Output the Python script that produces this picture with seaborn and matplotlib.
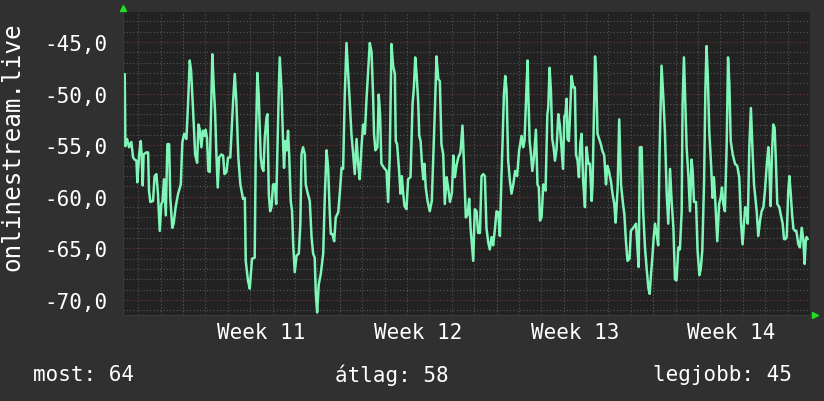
import pandas as pd
import matplotlib.pyplot as plt
import matplotlib.ticker as mticker
import seaborn as sns

# time axis: days since the start of Week 11
days = [-2.605, -2.575, -2.50, -2.41, -2.31, -2.23, -2.16, -2.08, -2.04, -1.96, -1.89, -1.85, -1.80, -1.76,
        -1.64, -1.56, -1.52, -1.46, -1.34, -1.27, -1.19, -1.12, -1.04, -0.97, -0.92, -0.85, -0.77, -0.70,
        -0.62, -0.57, -0.48, -0.42, -0.33, -0.22, -0.10, -0.03, 0.05, 0.15, 0.22, 0.30, 0.36, 0.42, 0.48,
        0.54, 0.63, 0.69, 0.75, 0.82, 0.89, 0.97, 1.01, 1.07, 1.13, 1.19, 1.25, 1.31, 1.37, 1.43, 1.49,
        1.55, 1.61, 1.71, 1.79, 1.85, 1.94, 2.01, 2.11, 2.23, 2.31, 2.38, 2.47, 2.56, 2.68, 2.76, 2.80,
        2.90, 2.98, 3.08, 3.20,
        3.25, 3.32, 3.38, 3.47, 3.53, 3.59, 3.65, 3.73, 3.77, 3.83, 3.89, 3.95, 4.02, 4.10, 4.16, 4.22,
        4.28, 4.32, 4.40, 4.47, 4.51, 4.57, 4.63, 4.69, 4.74, 4.81, 4.87, 4.92, 4.99, 5.07, 5.17, 5.24,
        5.29, 5.36, 5.44, 5.48, 5.56, 5.66, 5.74, 5.81, 5.88, 5.93, 5.99, 6.06, 6.15, 6.26, 6.33, 6.41,
        6.48, 6.55, 6.60, 6.67, 6.75, 6.82, 6.93, 7.00, 7.08, 7.15, 7.22, 7.30, 7.37, 7.45, 7.52, 7.60,
        7.67, 7.75, 7.82, 7.89, 7.97, 8.04, 8.12, 8.19, 8.27, 8.34, 8.42, 8.49, 8.53, 8.59, 8.68, 8.74,
        8.80, 8.86, 8.98, 9.09, 9.16, 9.23, 9.31, 9.38,
        9.46, 9.50, 9.56, 9.65, 9.71, 9.77, 9.83, 9.89, 9.98, 10.05, 10.16, 10.25, 10.31, 10.37, 10.43,
        10.50, 10.55, 10.61, 10.67, 10.73, 10.78, 10.84, 10.92, 11.02, 11.11, 11.17, 11.25, 11.32, 11.40,
        11.47, 11.54, 11.62, 11.69, 11.77, 11.84, 11.92, 12.01, 12.07, 12.14, 12.21, 12.29, 12.39, 12.48,
        12.54, 12.63, 12.71, 12.78, 12.84, 12.96, 13.03, 13.11, 13.18, 13.26, 13.33, 13.41, 13.48, 13.55,
        13.63, 13.70, 13.78, 13.85, 13.93, 14.00, 14.08, 14.15, 14.22, 14.27, 14.33, 14.39, 14.45, 14.52,
        14.60, 14.67, 14.75, 14.83, 14.92, 15.01, 15.12, 15.19, 15.25, 15.34, 15.39,
        15.42, 15.48, 15.54, 15.60, 15.67, 15.76, 15.83, 15.89, 15.94, 16.01, 16.09, 16.19, 16.27, 16.31,
        16.37, 16.43, 16.49, 16.55, 16.61, 16.68, 16.76, 16.83, 16.91, 16.97, 17.03, 17.08, 17.13, 17.17,
        17.23, 17.29, 17.35, 17.43, 17.50, 17.55, 17.62, 17.68, 17.74, 17.80, 17.87, 17.95, 18.02, 18.10,
        18.17, 18.25, 18.29, 18.34, 18.40, 18.45, 18.51, 18.57, 18.66, 18.72, 18.81, 18.89, 18.95, 19.02,
        19.11, 19.18, 19.26, 19.32, 19.41, 19.48, 19.56, 19.65, 19.71, 19.78, 19.85, 19.94, 20.00, 20.11,
        20.23, 20.30, 20.35, 20.40, 20.48, 20.55, 20.63, 20.70, 20.78, 20.84, 20.90, 20.96, 21.02, 21.08,
        21.15, 21.22, 21.28, 21.37,
        21.45, 21.52, 21.60, 21.67, 21.75, 21.82, 21.90, 21.97, 22.04, 22.12, 22.19, 22.27, 22.31, 22.37,
        22.43, 22.49, 22.57, 22.64, 22.71, 22.76, 22.82, 22.91, 22.98, 23.06, 23.12, 23.19, 23.27, 23.33,
        23.38, 23.44, 23.50, 23.58, 23.65, 23.71, 23.77, 23.86, 23.94, 24.01, 24.07, 24.13, 24.20, 24.28,
        24.34, 24.40, 24.46, 24.55, 24.65, 24.75, 24.84, 24.92, 24.99, 25.05, 25.11, 25.17, 25.22, 25.29,
        25.36, 25.44, 25.50, 25.62, 25.69, 25.77, 25.84, 25.92, 25.99, 26.06, 26.14, 26.18, 26.24, 26.30,
        26.36, 26.42, 26.48, 26.54, 26.63, 26.69, 26.78, 26.84, 26.90, 26.96, 27.03, 27.08, 27.14, 27.20,
        27.26, 27.33, 27.39, 27.48, 27.55, 27.63, 27.70, 27.76, 27.81, 27.85, 27.90]

signal = [-48.1, -55.1, -54.4, -55.2, -54.7, -56.2, -56.4, -56.5, -58.6, -55.9, -54.6, -55.9, -58.9, -55.9,
          -55.7, -55.7, -59.4, -60.5, -60.4, -58.0, -57.8, -59.7, -63.3, -60.7, -60.5, -58.3, -61.8, -54.9,
          -54.9, -60.1, -63.0, -62.6, -61.0, -59.7, -58.8, -54.7, -53.9, -54.4, -51.2, -46.8, -47.8, -50.4, -53.0,
          -55.9, -56.7, -53.0, -53.5, -55.2, -53.6, -54.1, -53.5, -54.3, -57.5, -57.6, -51.7, -46.2, -49.3, -51.7, -55.9,
          -59.1, -56.2, -55.9, -56.0, -57.8, -57.6, -56.2, -56.2, -51.0, -48.1, -50.7, -56.2, -58.8, -60.2, -60.1, -66.2,
          -68.1, -68.9, -66.0, -65.9,
          -54.9, -48.0, -50.2, -56.2, -57.2, -57.5, -54.3, -52.3, -52.0, -59.7, -61.4, -61.0, -58.8, -58.8, -60.7, -55.2,
          -49.4, -46.5, -49.7, -54.9, -57.2, -54.6, -55.5, -53.6, -55.9, -60.4, -61.4, -64.6, -67.3, -65.7, -65.5, -62.6,
          -55.9, -55.2, -55.9, -58.8, -59.6, -60.4, -63.9, -65.5, -65.9, -69.4, -71.2, -68.5, -67.5, -65.5, -60.1, -55.5,
          -57.2, -61.4, -63.6, -63.6, -64.3, -62.0, -61.5, -59.7, -57.2, -57.3, -50.4, -45.1, -47.8, -51.0, -53.9, -55.9,
          -57.8, -54.4, -56.8, -58.3, -55.2, -53.0, -53.9, -50.7, -47.8, -45.1, -46.0, -50.4, -53.9, -55.5, -55.2, -50.1,
          -52.0, -56.8, -57.2, -57.5, -60.5, -56.2, -45.2, -47.3,
          -48.1, -54.6, -54.9, -57.5, -59.7, -58.0, -59.6, -60.9, -61.2, -58.3, -58.1, -51.0, -49.4, -46.5, -48.1,
          -50.7, -54.1, -54.6, -56.8, -58.3, -56.8, -59.1, -60.4, -61.4, -60.4, -56.5, -51.4, -46.4, -48.6,
          -48.8, -54.9, -55.9, -60.7, -58.1, -59.1, -60.5, -59.6, -56.0, -58.1, -57.0, -56.2, -55.7, -53.1,
          -56.5, -62.0, -61.7, -60.2, -63.0, -66.2, -61.2, -61.4, -63.5, -63.5, -58.0, -57.8, -58.0, -63.0,
          -64.4, -65.1, -63.9, -64.7, -63.1, -61.4, -61.5, -63.8, -58.1, -54.7, -50.1, -48.3, -49.7, -56.5,
          -58.5, -59.7, -58.8, -57.5, -58.0, -55.5, -54.1, -55.2, -54.6, -49.4, -46.8,
          -50.1, -54.6, -55.9, -57.5, -56.2, -53.5, -58.8, -59.1, -62.3, -62.0, -58.8, -59.4, -52.0, -51.4,
          -47.5, -49.7, -54.4, -55.2, -56.5, -55.4, -52.0, -53.1, -55.5, -57.3, -52.2, -52.0, -50.5, -54.4,
          -54.6, -51.7, -48.3, -49.4, -49.4, -55.9, -56.5, -58.1, -54.9, -53.9, -58.5, -61.0, -55.2, -56.8,
          -56.8, -60.4, -58.8, -53.0, -46.4, -48.1, -53.9, -54.3, -54.9, -55.5, -56.0, -58.8, -57.0, -57.5,
          -58.5, -59.7, -60.7, -62.5, -59.1, -52.5, -58.8, -60.7, -61.7, -64.3, -66.2, -66.0, -63.3, -63.0,
          -62.6, -65.2, -66.8, -55.2, -55.2, -61.4, -64.9, -66.8, -68.8, -69.4, -67.5, -65.9, -63.9, -62.6,
          -63.6, -64.7, -55.9, -47.3,
          -50.4, -53.6, -59.7, -62.6, -57.3, -60.4, -63.0, -68.0, -68.1, -64.9, -65.1, -61.4, -51.0, -46.5,
          -50.7, -55.2, -58.0, -61.4, -56.4, -57.5, -60.5, -60.5, -65.2, -67.6, -67.0, -65.2, -58.5, -49.4,
          -45.4, -48.5, -53.6, -56.8, -60.1, -58.1, -60.4, -64.3, -60.7, -60.1, -59.1, -60.7, -61.4, -54.9,
          -46.5, -49.1, -54.6, -55.9, -56.8, -57.0, -58.1, -62.6, -64.6, -62.6, -61.0, -61.2, -62.6, -55.2,
          -51.4, -55.9, -58.8, -61.4, -63.8, -62.3, -61.4, -61.0, -59.4, -57.2, -55.2, -56.8, -60.9, -55.9,
          -53.0, -53.3, -56.8, -60.7, -61.0, -61.7, -62.6, -64.1, -64.1, -63.9, -59.4, -58.0, -59.7, -61.7,
          -63.1, -63.3, -63.3, -64.6, -64.9, -63.0, -64.1, -66.5, -64.3, -63.9, -64.1]

week_centers = [3.5, 10.5, 17.5, 24.5]
week_labels = ['Week 11', 'Week 12', 'Week 13', 'Week 14']
week_starts = [0, 7, 14, 21]
y_ticks = [-70, -65, -60, -55, -50, -45]
stats = {'most': 64, 'átlag': 58, 'legjobb': 45}

df = pd.DataFrame({'day': days, 'value': signal})

sns.set_style('dark')
plt.rcParams['font.family'] = ['DejaVu Sans Mono']

fig = plt.figure(figsize=(8.24, 4.02), dpi=100, facecolor='#303030')
ax = fig.add_axes([0.1493, 0.2139, 0.8337, 0.7538])
ax.set_facecolor('#222222')

sns.lineplot(data=df, x='day', y='value', ax=ax, color='#7ff5b8', linewidth=1.8,
             estimator=None, sort=False)

ax.set_xlim(-2.68, 28.0)
ax.set_ylim(-71.45, -42.1)

# minor grid: every day / every unit, major: weeks / 5 units in red
ax.xaxis.set_minor_locator(mticker.MultipleLocator(1))
ax.yaxis.set_minor_locator(mticker.MultipleLocator(1))
ax.set_yticks(y_ticks)
ax.yaxis.set_major_formatter(mticker.FuncFormatter(lambda v, p: f'{v:.1f}'.replace('.', ',')))
ax.set_xticks(week_centers)
ax.set_xticklabels(week_labels)

ax.grid(False)
ax.grid(which='minor', axis='both', color='#555555', linestyle=(0, (1, 2)), linewidth=0.8)
ax.grid(which='major', axis='y', color='#7a3434', linestyle=(0, (1, 2)), linewidth=0.8)
for d in week_starts:
    ax.axvline(d, color='#7a3434', linestyle=(0, (1, 2)), linewidth=0.8, zorder=0.5)

ax.tick_params(axis='both', which='both', colors='#ffffff', labelsize=15, length=0)
ax.tick_params(axis='y', pad=11)
ax.tick_params(axis='x', pad=5)
for s in ['top', 'right']:
    ax.spines[s].set_visible(False)
for s in ['left', 'bottom']:
    ax.spines[s].set_color('#3a3a3a')
ax.set_xlabel('')
ax.set_ylabel('')

# rrdtool style axis arrows
ax.plot([0], [1.012], marker='^', color='#22dd22', markersize=5, transform=ax.transAxes, clip_on=False)
ax.plot([1.007], [0], marker='>', color='#22dd22', markersize=5, transform=ax.transAxes, clip_on=False)

fig.text(0.015, 0.634, 'onlinestream.live', rotation=90, ha='center', va='center',
         color='white', fontsize=17.5)

fig.text(0.040, 0.067, f"most: {stats['most']}", ha='left', va='center', color='white', fontsize=15)
fig.text(0.476, 0.067, f"átlag: {stats['átlag']}", ha='center', va='center', color='white', fontsize=15)
fig.text(0.961, 0.067, f"legjobb: {stats['legjobb']}", ha='right', va='center', color='white', fontsize=15)

fig.savefig('out.png', dpi=100, facecolor=fig.get_facecolor())
